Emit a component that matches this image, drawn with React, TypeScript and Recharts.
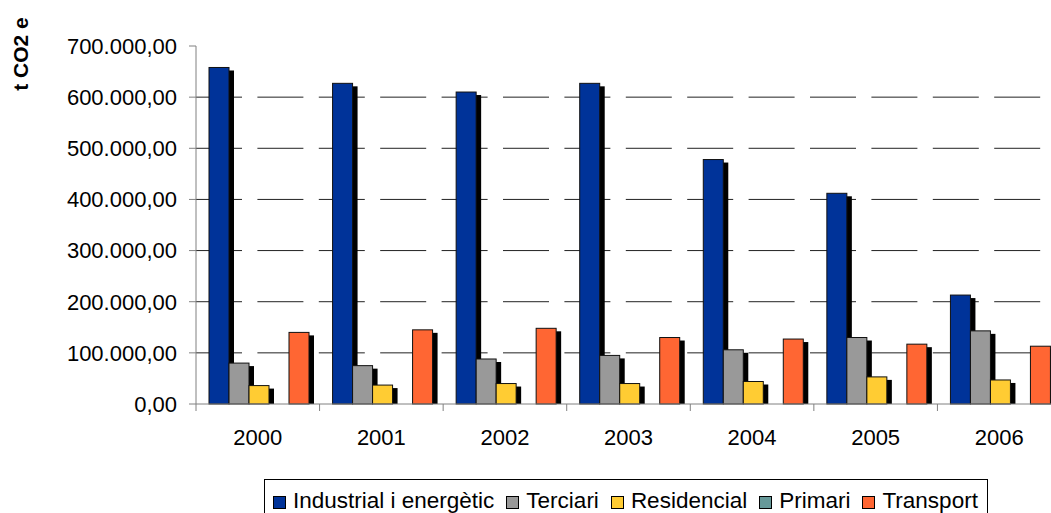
import { Bar, BarChart, CartesianGrid, Legend, XAxis, YAxis } from "recharts";

const years = ["2000", "2001", "2002", "2003", "2004", "2005", "2006"];
const industrial = [658000, 627000, 610000, 627000, 478000, 412000, 213000];
const terciari = [80000, 75000, 88000, 95000, 106000, 130000, 143000];
const residencial = [36000, 37000, 40000, 40000, 44000, 53000, 47000];
const primari = [0, 0, 0, 0, 0, 0, 0];
const transport = [140000, 145000, 148000, 130000, 127000, 117000, 113000];
const yTicks = [0, 100000, 200000, 300000, 400000, 500000, 600000, 700000];

const series = [
  { key: "industrial", name: "Industrial i energètic", color: "#003399" },
  { key: "terciari", name: "Terciari", color: "#999999" },
  { key: "residencial", name: "Residencial", color: "#FFCC33" },
  { key: "primari", name: "Primari", color: "#669999" },
  { key: "transport", name: "Transport", color: "#FF6633" },
];

const data = years.map((year, i) => ({
  year,
  industrial: industrial[i],
  terciari: terciari[i],
  residencial: residencial[i],
  primari: primari[i],
  transport: transport[i],
}));

const FONT = "'Liberation Sans', Arial, sans-serif";
const CHART_W = 1062;
const CHART_H = 513;
const PLOT_LEFT = 196;
const PLOT_RIGHT = 1;
const BAND = (CHART_W - PLOT_LEFT - PLOT_RIGHT) / years.length;

const fmt = (v: number) => {
  const s = Math.round(v).toString().replace(/\B(?=(\d{3})+(?!\d))/g, ".");
  return `${s},00`;
};

// Excel-ish bar: black drop shadow behind, outlined face on top
const ShadowBar = (props: any) => {
  const { x, y, width, height, fill } = props;
  if (!height || height <= 0) return null;
  return (
    <g>
      <rect x={x + 5} y={y + 3} width={width} height={Math.max(height - 3, 0)} fill="#000" />
      <rect x={x} y={y} width={width} height={height} fill={fill} stroke="#111" strokeWidth={1} />
    </g>
  );
};

const XTick = (props: any) => {
  const { x, payload } = props;
  return (
    <g>
      <line x1={x - BAND / 2} y1={404} x2={x - BAND / 2} y2={411} stroke="#808080" />
      <text x={x} y={445} textAnchor="middle" fontSize={22} fill="#000" fontFamily={FONT}>
        {payload.value}
      </text>
    </g>
  );
};

// legend in series order (recharts would sort it by name)
const renderLegend = () => (
  <div
    style={{
      display: "inline-flex",
      alignItems: "center",
      border: "1px solid #000",
      background: "#fff",
      padding: "8px 9px 10px 8px",
      fontSize: 22.5,
      fontFamily: FONT,
      whiteSpace: "nowrap",
      lineHeight: "26px",
    }}
  >
    {series.map((s, i) => (
      <span
        key={s.key}
        style={{ display: "inline-flex", alignItems: "center", marginRight: i < series.length - 1 ? 12 : 0 }}
      >
        <span
          style={{
            display: "inline-block",
            width: 11,
            height: 11,
            background: s.color,
            border: "1px solid #000",
            marginRight: 7,
            marginTop: 3,
          }}
        />
        {s.name}
      </span>
    ))}
  </div>
);

export default function App() {
  return (
    <div
      style={{
        position: "absolute",
        left: 0,
        top: 0,
        width: 1051,
        height: 513,
        overflow: "hidden",
        background: "#fff",
        fontFamily: FONT,
      }}
    >
      <BarChart
        width={CHART_W}
        height={CHART_H}
        data={data}
        margin={{ top: 46, right: PLOT_RIGHT, left: 0, bottom: 69 }}
        barCategoryGap={13}
        barGap={0}
      >
        <CartesianGrid
          vertical={false}
          horizontalValues={[100000, 200000, 300000, 400000, 500000, 600000]}
          stroke="#222"
          strokeDasharray="46 15.4"
        />
        <XAxis
          dataKey="year"
          height={40}
          tick={<XTick />}
          tickLine={false}
          axisLine={{ stroke: "#808080" }}
          interval={0}
        />
        <YAxis
          width={PLOT_LEFT}
          domain={[0, 700000]}
          ticks={yTicks}
          tickFormatter={fmt}
          tickSize={7}
          tickMargin={12}
          axisLine={{ stroke: "#808080" }}
          tickLine={{ stroke: "#808080" }}
          tick={{ fontSize: 22, fill: "#000", fontFamily: FONT }}
          label={{
            content: () => (
              <text
                transform="translate(28,54) rotate(-90)"
                textAnchor="middle"
                fontSize={21}
                fontWeight="bold"
                fill="#000"
                fontFamily={FONT}
              >
                t CO2 e
              </text>
            ),
          }}
        />
        <Legend
          layout="horizontal"
          verticalAlign="middle"
          align="center"
          content={renderLegend}
          wrapperStyle={{ left: 264, top: 479, width: "auto" }}
        />
        {series.map((s) => (
          <Bar
            key={s.key}
            dataKey={s.key}
            name={s.name}
            fill={s.color}
            shape={ShadowBar}
            isAnimationActive={false}
          />
        ))}
      </BarChart>
    </div>
  );
}
